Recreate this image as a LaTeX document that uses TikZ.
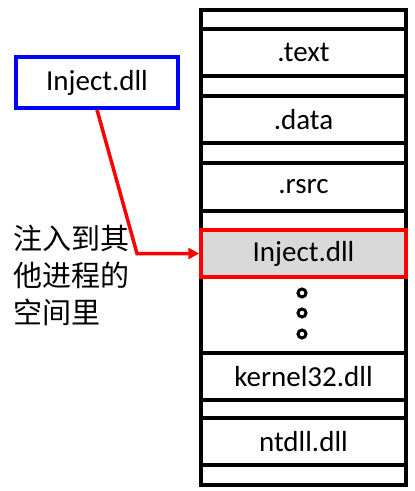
\documentclass[tikz,border=0pt]{standalone}
\usepackage{fontspec}
\setmainfont{Carlito}
\newfontfamily\cjk{Noto Sans CJK SC}
\usetikzlibrary{arrows.meta}
\definecolor{boxgray}{RGB}{217,217,217}
\begin{document}
\begin{tikzpicture}[x=1pt,y=-1pt,
  seg/.style={draw=black,line width=3.5pt,rectangle,inner sep=0pt,minimum width=205pt,font=\fontsize{29}{32}\selectfont},
  dotc/.style={draw=black,line width=3pt,circle,inner sep=0pt,minimum size=8pt}]
\useasboundingbox[fill=white] (0,0) rectangle (415,491);
\node[seg,minimum height=19pt] (s1) at (303.5,19.5) {};
\node[seg,minimum height=47pt] (text) at (303.5,52.5) {.text};
\node[seg,minimum height=20pt] (s2) at (303.5,86) {};
\node[seg,minimum height=47pt] (data) at (303.5,119.5) {.data};
\node[seg,minimum height=20pt] (s3) at (303.5,153) {};
\node[seg,minimum height=48pt] (rsrc) at (303.5,187) {.rsrc};
\node[seg,minimum height=19pt] (s4) at (303.5,220.5) {};
\node[seg,minimum height=76pt] (dots) at (303.5,315) {};
\node[seg,minimum height=47pt] (k32) at (303.5,376.5) {kernel32.dll};
\node[seg,minimum height=18pt] (s5) at (303.5,409) {};
\node[seg,minimum height=47pt] (nt) at (303.5,441.5) {ntdll.dll};
\node[seg,minimum height=20pt] (s6) at (303.5,475) {};
\node[seg,draw=red,fill=boxgray,minimum height=47pt] (inj) at (303.5,253.5) {Inject.dll};
\node[dotc] (d1) at (302,293) {};
\node[dotc] (d2) at (302,313) {};
\node[dotc] (d3) at (302,334) {};
\node[draw=blue,line width=3.5pt,rectangle,inner sep=0pt,minimum width=162pt,minimum height=51pt,font=\fontsize{29}{32}\selectfont] (src) at (97,82.5) {Inject.dll};
\node[anchor=north west,align=left,inner sep=0pt,font=\cjk\fontsize{29}{37}\selectfont] (lbl) at (13,225) {注入到其\\他进程的\\空间里};
\coordinate (bend) at (137,253.5);
\draw[red,line width=3.5pt,-{Triangle[length=11pt,width=11pt]}] (src.south) -- (bend) -- (inj.west);
\end{tikzpicture}
\end{document}
